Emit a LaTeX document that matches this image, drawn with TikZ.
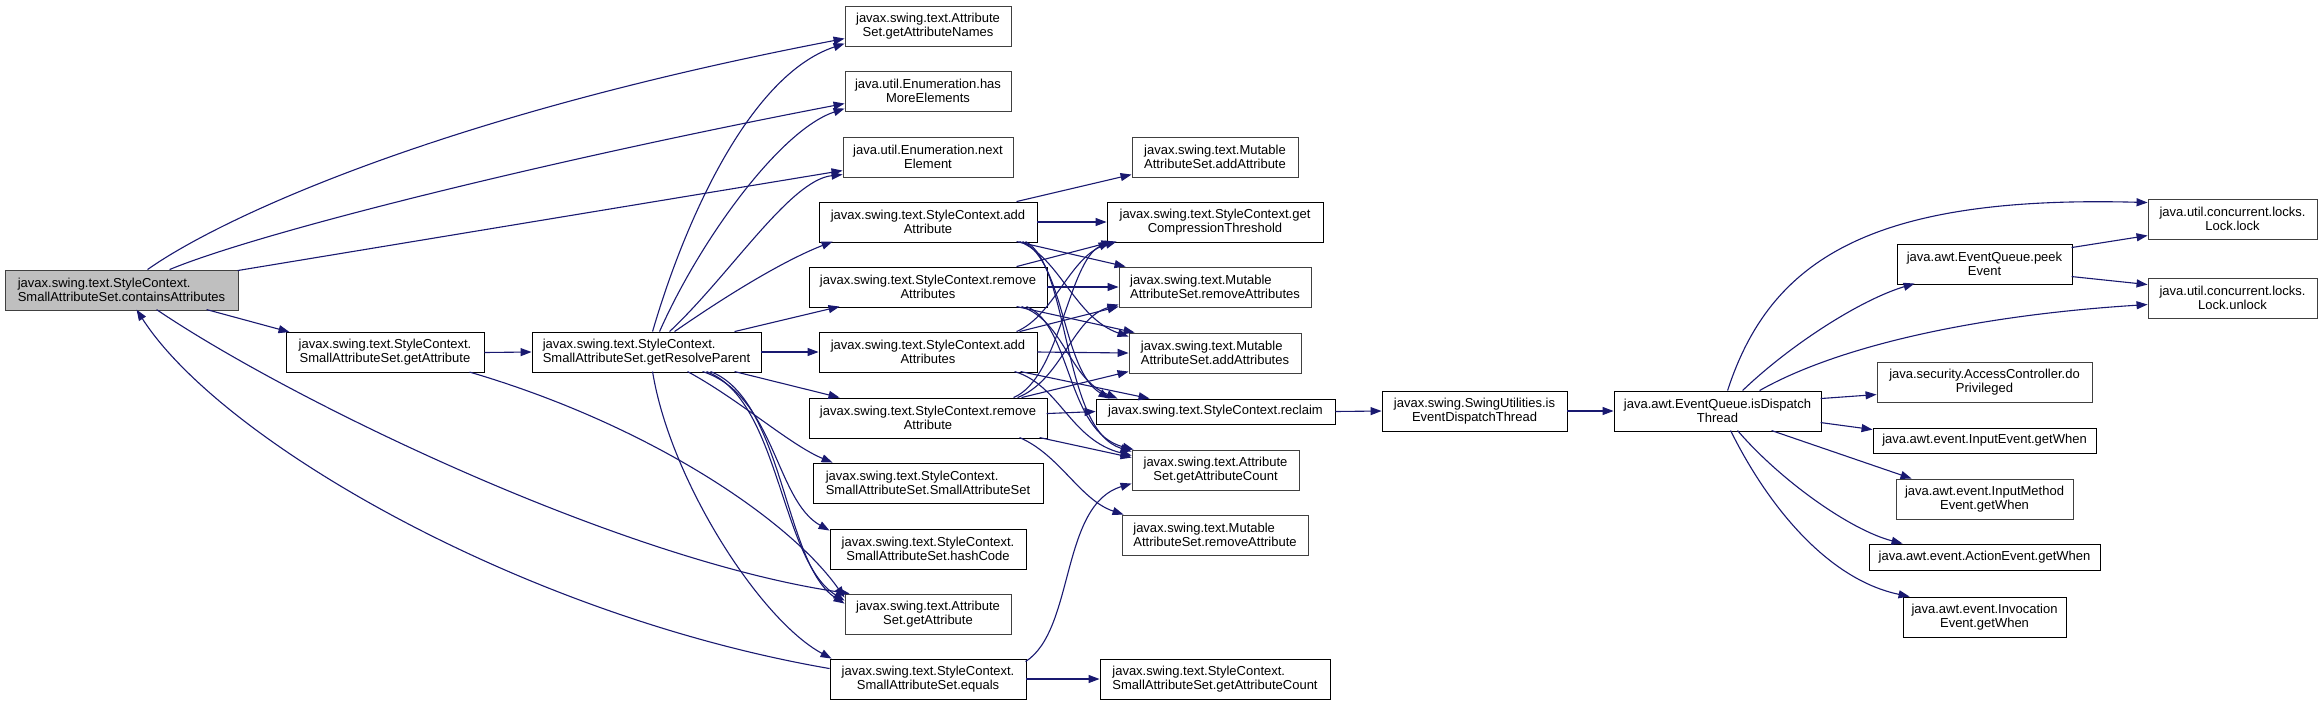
\documentclass[tikz,border=0pt]{standalone}
\usepackage{fontspec}
\newfontfamily\lsans{Liberation Sans}
\usetikzlibrary{arrows.meta}
\definecolor{edgec}{RGB}{25,25,112}
\definecolor{mainfill}{RGB}{191,191,191}
\definecolor{gborder}{RGB}{64,64,64}
\begin{document}
\begin{tikzpicture}[x=1pt,y=-1pt,
 box/.style={draw=black,line width=0.9pt,fill=white,inner sep=0pt,font=\lsans\fontsize{13}{14}\selectfont},
 gbox/.style={box,draw=gborder},
 lft/.style={align=left}, ctr/.style={align=center},
 e/.style={draw=edgec,line width=1.1pt,-{Triangle[length=11pt,width=8pt,fill=edgec]}},
]
\useasboundingbox (0,0) rectangle (2323,705);
\fill[white] (0,0) rectangle (2323,705);
% column 0/1
\node[gbox,lft,minimum width=233pt,minimum height=40pt,fill=mainfill] (main) at (121.5,290) {javax.swing.text.StyleContext.\\SmallAttributeSet.containsAttributes};
\node[box,ctr,minimum width=198pt,minimum height=40pt] (gaSAS) at (385,352.5) {javax.swing.text.StyleContext.\\SmallAttributeSet.getAttribute};
\node[box,lft,minimum width=229pt,minimum height=40pt] (grp) at (646.5,352) {javax.swing.text.StyleContext.\\SmallAttributeSet.getResolveParent};
% column 2
\node[gbox,ctr,minimum width=166pt,minimum height=40pt] (gan) at (928,26) {javax.swing.text.Attribute\\Set.getAttributeNames};
\node[gbox,ctr,minimum width=166pt,minimum height=40pt] (hme) at (928,91) {java.util.Enumeration.has\\MoreElements};
\node[gbox,ctr,minimum width=170pt,minimum height=40pt] (ne) at (928,157) {java.util.Enumeration.next\\Element};
\node[box,ctr,minimum width=218pt,minimum height=40pt] (scAA) at (928,222) {javax.swing.text.StyleContext.add\\Attribute};
\node[box,ctr,minimum width=238pt,minimum height=40pt] (scRAs) at (928,287) {javax.swing.text.StyleContext.remove\\Attributes};
\node[box,ctr,minimum width=218pt,minimum height=40pt] (scAAs) at (928,352) {javax.swing.text.StyleContext.add\\Attributes};
\node[box,ctr,minimum width=238pt,minimum height=40pt] (scRA) at (928,418) {javax.swing.text.StyleContext.remove\\Attribute};
\node[box,lft,minimum width=230pt,minimum height=40pt] (sasSAS) at (928,483) {javax.swing.text.StyleContext.\\SmallAttributeSet.SmallAttributeSet};
\node[box,ctr,minimum width=196pt,minimum height=40pt] (hash) at (928,549) {javax.swing.text.StyleContext.\\SmallAttributeSet.hashCode};
\node[gbox,ctr,minimum width=166pt,minimum height=40pt] (asGA) at (928,614) {javax.swing.text.Attribute\\Set.getAttribute};
\node[box,ctr,minimum width=196pt,minimum height=40pt] (eq) at (928,679) {javax.swing.text.StyleContext.\\SmallAttributeSet.equals};
% column 3
\node[gbox,lft,minimum width=166pt,minimum height=40pt] (mAA) at (1215,157) {javax.swing.text.Mutable\\AttributeSet.addAttribute};
\node[box,ctr,minimum width=216pt,minimum height=40pt] (gct) at (1215,222) {javax.swing.text.StyleContext.get\\CompressionThreshold};
\node[gbox,lft,minimum width=192pt,minimum height=40pt] (mRAs) at (1215,287) {javax.swing.text.Mutable\\AttributeSet.removeAttributes};
\node[gbox,lft,minimum width=172pt,minimum height=40pt] (mAAs) at (1215,353) {javax.swing.text.Mutable\\AttributeSet.addAttributes};
\node[box,minimum width=239pt,minimum height=25pt] (reclaim) at (1215.5,411.5) {javax.swing.text.StyleContext.reclaim};
\node[gbox,ctr,minimum width=167pt,minimum height=40pt] (asGAC) at (1215.5,470) {javax.swing.text.Attribute\\Set.getAttributeCount};
\node[gbox,lft,minimum width=186pt,minimum height=40pt] (mRA) at (1215,535) {javax.swing.text.Mutable\\AttributeSet.removeAttribute};
\node[box,lft,minimum width=230pt,minimum height=40pt] (sasGAC) at (1215,679) {javax.swing.text.StyleContext.\\SmallAttributeSet.getAttributeCount};
% columns 4-6
\node[box,ctr,minimum width=185pt,minimum height=40pt] (iedt) at (1474.5,411) {javax.swing.SwingUtilities.is\\EventDispatchThread};
\node[box,ctr,minimum width=207pt,minimum height=40pt] (idt) at (1717.5,411) {java.awt.EventQueue.isDispatch\\Thread};
\node[box,ctr,minimum width=175pt,minimum height=40pt] (peek) at (1984.5,264) {java.awt.EventQueue.peek\\Event};
\node[gbox,ctr,minimum width=215pt,minimum height=40pt] (dp) at (1984.5,382) {java.security.AccessController.do\\Privileged};
\node[box,minimum width=223pt,minimum height=25pt] (ie) at (1984.5,440.5) {java.awt.event.InputEvent.getWhen};
\node[gbox,ctr,minimum width=177pt,minimum height=40pt] (ime) at (1984.5,499) {java.awt.event.InputMethod\\Event.getWhen};
\node[box,minimum width=231pt,minimum height=26pt] (ae) at (1984.5,557) {java.awt.event.ActionEvent.getWhen};
\node[box,ctr,minimum width=163pt,minimum height=40pt] (inv) at (1984.5,617) {java.awt.event.Invocation\\Event.getWhen};
\node[gbox,ctr,minimum width=169pt,minimum height=40pt] (lock) at (2232.5,219) {java.util.concurrent.locks.\\Lock.lock};
\node[gbox,ctr,minimum width=169pt,minimum height=40pt] (unlock) at (2232.5,298) {java.util.concurrent.locks.\\Lock.unlock};
% edges from main
\draw[e] ([shift={(143,0)}]main.north west) .. controls (210,225) and (420,120) .. ([shift={(0,33)}]gan.north west);
\draw[e] ([shift={(165,0)}]main.north west) .. controls (260,232) and (550,160) .. ([shift={(0,33)}]hme.north west);
\draw[e] ([shift={(233,1)}]main.north west) -- ([shift={(0,34)}]ne.north west);
\draw[e] ([shift={(202,40)}]main.north west) -- ([shift={(4,0)}]gaSAS.north west);
\draw[e] ([shift={(152,40)}]main.north west) .. controls (290,400) and (620,560) .. ([shift={(5,0)}]asGA.north west);
\draw[e] ([shift={(0,10)}]eq.north west) .. controls (520,615) and (220,440) .. ([shift={(132,40)}]main.north west);
% gaSAS
\draw[e] (gaSAS.east) -- (grp.west);
\draw[e] ([shift={(184,40)}]gaSAS.north west) .. controls (650,425) and (790,520) .. ([shift={(0,4)}]asGA.north west);
% grp
\draw[e] ([shift={(121,0)}]grp.north west) .. controls (685,220) and (750,75) .. ([shift={(0,38)}]gan.north west);
\draw[e] ([shift={(128,0)}]grp.north west) .. controls (700,240) and (780,130) .. ([shift={(0,38)}]hme.north west);
\draw[e] ([shift={(138,0)}]grp.north west) .. controls (730,275) and (790,180) .. ([shift={(0,38)}]ne.north west);
\draw[e] ([shift={(143,0)}]grp.north west) .. controls (720,300) and (780,262) .. ([shift={(14,40)}]scAA.north west);
\draw[e] ([shift={(203,0)}]grp.north west) -- ([shift={(31,40)}]scRAs.north west);
\draw[e] (grp.east) -- (scAAs.west);
\draw[e] ([shift={(203,40)}]grp.north west) -- ([shift={(31,0)}]scRA.north west);
\draw[e] ([shift={(156,40)}]grp.north west) .. controls (740,400) and (790,445) .. ([shift={(20,0)}]sasSAS.north west);
\draw[e] ([shift={(171,40)}]grp.north west) .. controls (775,395) and (775,500) .. ([shift={(0,2)}]hash.north west);
\draw[e] ([shift={(175,40)}]grp.north west) .. controls (780,400) and (780,560) .. ([shift={(0,7)}]asGA.north west);
\draw[e] ([shift={(179,40)}]grp.north west) .. controls (784,400) and (784,565) .. ([shift={(0,10)}]asGA.north west);
\draw[e] ([shift={(121,40)}]grp.north west) .. controls (670,480) and (760,620) .. ([shift={(2,0)}]eq.north west);
% scAA
\draw[e] ([shift={(198,0)}]scAA.north west) -- ([shift={(0,38)}]mAA.north west);
\draw[e] (scAA.east) -- (gct.west);
\draw[e] ([shift={(198,40)}]scAA.north west) -- ([shift={(7,0)}]mRAs.north west);
\draw[e] ([shift={(201,40)}]scAA.north west) .. controls (1060,258) and (1075,318) .. ([shift={(0,4)}]mAAs.north west);
\draw[e] ([shift={(204,40)}]scAA.north west) .. controls (1065,262) and (1062,370) .. ([shift={(14,0)}]reclaim.north west);
\draw[e] ([shift={(207,40)}]scAA.north west) .. controls (1070,265) and (1062,430) .. ([shift={(0,2)}]asGAC.north west);
% scRAs
\draw[e] ([shift={(208,0)}]scRAs.north west) -- ([shift={(6,40)}]gct.north west);
\draw[e] (scRAs.east) -- (mRAs.west);
\draw[e] ([shift={(208,40)}]scRAs.north west) -- ([shift={(6,0)}]mAAs.north west);
\draw[e] ([shift={(213,40)}]scRAs.north west) .. controls (1065,322) and (1068,378) .. ([shift={(22,0)}]reclaim.north west);
\draw[e] ([shift={(218,40)}]scRAs.north west) .. controls (1072,325) and (1066,432) .. ([shift={(2,0)}]asGAC.north west);
% scAAs
\draw[e] ([shift={(198,0)}]scAAs.north west) .. controls (1055,315) and (1070,255) .. ([shift={(10,40)}]gct.north west);
\draw[e] ([shift={(201,0)}]scAAs.north west) -- ([shift={(0,40)}]mRAs.north west);
\draw[e] (scAAs.east) -- (mAAs.west);
\draw[e] ([shift={(202,40)}]scAAs.north west) -- ([shift={(54,0)}]reclaim.north west);
\draw[e] ([shift={(196,40)}]scAAs.north west) .. controls (1060,385) and (1070,440) .. ([shift={(0,6)}]asGAC.north west);
% scRA
\draw[e] ([shift={(205,0)}]scRA.north west) .. controls (1060,378) and (1068,262) .. ([shift={(3,40)}]gct.north west);
\draw[e] ([shift={(209,0)}]scRA.north west) .. controls (1062,380) and (1072,318) .. ([shift={(0,38)}]mRAs.north west);
\draw[e] ([shift={(213,0)}]scRA.north west) -- ([shift={(0,39)}]mAAs.north west);
\draw[e] ([shift={(238,16)}]scRA.north west) -- ([shift={(0,13)}]reclaim.north west);
\draw[e] ([shift={(231,40)}]scRA.north west) -- ([shift={(0,8)}]asGAC.north west);
\draw[e] ([shift={(211,40)}]scRA.north west) .. controls (1060,455) and (1080,500) .. ([shift={(2,0)}]mRA.north west);
% eq
\draw[e] ([shift={(196,3)}]eq.north west) .. controls (1075,630) and (1060,505) .. ([shift={(0,34)}]asGAC.north west);
\draw[e] (eq.east) -- (sasGAC.west);
% right part
\draw[e] (reclaim.east) -- (iedt.west);
\draw[e] (iedt) -- (idt);
\draw[e] ([shift={(114,0)}]idt.north west) .. controls (1770,260) and (1870,195) .. ([shift={(0,4)}]lock.north west);
\draw[e] ([shift={(129,0)}]idt.north west) .. controls (1790,345) and (1860,300) .. ([shift={(18,40)}]peek.north west);
\draw[e] ([shift={(146,0)}]idt.north west) .. controls (1840,345) and (1980,315) .. ([shift={(0,27)}]unlock.north west);
\draw[e] ([shift={(207,8)}]idt.north west) -- ([shift={(0,33)}]dp.north west);
\draw[e] ([shift={(207,32)}]idt.north west) -- ([shift={(0,2)}]ie.north west);
\draw[e] ([shift={(158,40)}]idt.north west) -- ([shift={(16,0)}]ime.north west);
\draw[e] ([shift={(124,40)}]idt.north west) .. controls (1780,480) and (1850,530) .. ([shift={(34,0)}]ae.north west);
\draw[e] ([shift={(117,40)}]idt.north west) .. controls (1770,510) and (1830,580) .. ([shift={(7,0)}]inv.north west);
\draw[e] ([shift={(175,4)}]peek.north west) -- ([shift={(0,37)}]lock.north west);
\draw[e] ([shift={(175,33)}]peek.north west) -- ([shift={(0,7)}]unlock.north west);
\end{tikzpicture}
\end{document}
